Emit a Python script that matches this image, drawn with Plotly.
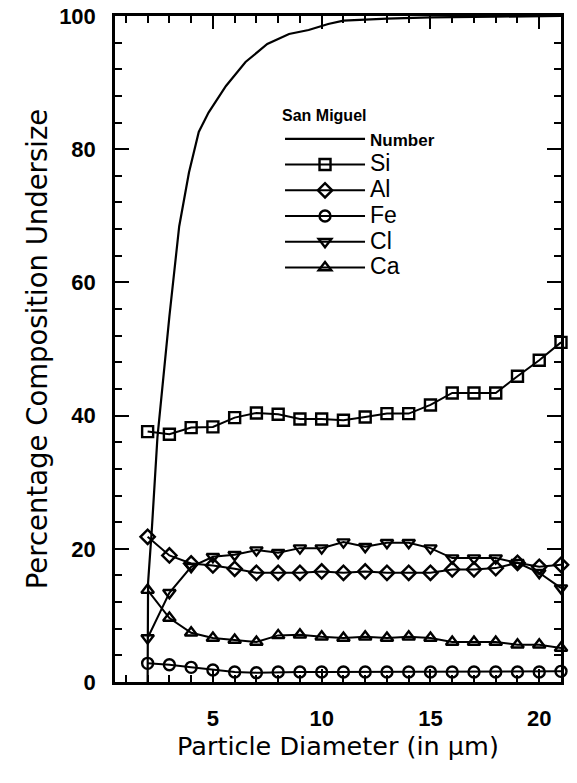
import plotly.graph_objects as go

# Particle diameter (µm) for the elemental composition series
diameter = [2, 3, 4, 5, 6, 7, 8, 9, 10, 11, 12, 13, 14, 15, 16, 17, 18, 19, 20, 21]

si = [37.6, 37.2, 38.2, 38.3, 39.7, 40.4, 40.2, 39.5, 39.5, 39.3,
      39.8, 40.3, 40.3, 41.6, 43.4, 43.4, 43.4, 45.9, 48.3, 51.0]
al = [21.8, 19.0, 17.8, 17.5, 17.0, 16.4, 16.4, 16.4, 16.6, 16.4,
      16.6, 16.4, 16.4, 16.4, 16.9, 16.9, 17.1, 17.9, 17.3, 17.6]
fe = [2.8, 2.6, 2.2, 1.8, 1.5, 1.4, 1.5, 1.5, 1.5, 1.5,
      1.5, 1.5, 1.5, 1.5, 1.5, 1.5, 1.5, 1.5, 1.5, 1.6]
cl = [6.6, 13.4, 17.3, 18.8, 19.1, 19.8, 19.4, 20.1, 20.1, 21.0,
      20.3, 20.9, 20.9, 20.1, 18.6, 18.6, 18.6, 17.9, 16.4, 14.1]
ca = [13.8, 9.6, 7.4, 6.6, 6.3, 6.0, 7.0, 7.1, 6.8, 6.6,
      6.8, 6.6, 6.8, 6.6, 6.0, 6.0, 6.0, 5.6, 5.6, 5.1]

# Cumulative number distribution (smooth curve, no markers)
number_x = [2.0, 2.02, 2.2, 2.45, 3.0, 3.45, 3.9, 4.35, 4.8, 5.6, 6.5,
            7.5, 8.5, 9.4, 10.3, 11.0, 13.0, 15.0, 18.0, 21.0]
number_y = [0.0, 14.9, 23.3, 36.7, 54.9, 68.4, 76.5, 82.6, 85.5, 89.5, 93.1,
            95.8, 97.3, 97.9, 98.8, 99.3, 99.6, 99.8, 99.9, 100.0]

series = [
    ("Si", si, "square-open"),
    ("Al", al, "diamond-open"),
    ("Fe", fe, "circle-open"),
    ("Cl", cl, "triangle-down-open"),
    ("Ca", ca, "triangle-up-open"),
]

x_ticks = [5, 10, 15, 20]
y_ticks = [0, 20, 40, 60, 80, 100]

fig = go.Figure()

fig.add_trace(go.Scatter(
    x=number_x, y=number_y, mode="lines",
    name="<b><span style='font-size:17px'>Number</span></b>",
    line=dict(color="black", width=2.2),
))

for name, vals, sym in series:
    fig.add_trace(go.Scatter(
        x=diameter, y=vals, mode="lines+markers",
        name=f"<span style='font-size:23px'>{name}</span>",
        line=dict(color="black", width=2),
        marker=dict(symbol=sym, size=11, color="black",
                    line=dict(color="black", width=2.4)),
        cliponaxis=False,
    ))

tick_font = dict(family="Liberation Sans", size=22, color="black", weight="bold")

fig.update_layout(
    width=577, height=783,
    margin=dict(l=115, r=16, t=16, b=101, autoexpand=False),
    paper_bgcolor="white", plot_bgcolor="white",
    showlegend=True,
    legend=dict(
        x=0.37, y=0.862, xanchor="left", yanchor="top",
        bgcolor="rgba(0,0,0,0)",
        title=dict(text="<b><span style='font-size:16px'>San Miguel</span></b>",
                   font=dict(family="Liberation Sans", size=10, color="black")),
        font=dict(family="Liberation Sans", size=17.5, color="black"),
        itemwidth=80, tracegroupgap=0,
    ),
    xaxis=dict(
        range=[0.5, 21], tickmode="array", tickvals=x_ticks,
        ticks="inside", ticklen=13, tickwidth=2, tickcolor="black",
        minor=dict(dtick=1, ticks="inside", ticklen=7, tickwidth=2,
                   tickcolor="black"),
        showline=True, linecolor="black", linewidth=2.5, mirror="ticks",
        showgrid=False, zeroline=False, automargin=False,
        tickfont=tick_font,
        ticklabelstandoff=15,
        title=dict(text="Particle Diameter (in µm)",
                   font=dict(family="DejaVu Sans", size=25.5, color="black"),
                   standoff=0),
    ),
    yaxis=dict(
        range=[0, 100], tickmode="array", tickvals=y_ticks,
        ticks="inside", ticklen=14, tickwidth=2, tickcolor="black",
        minor=dict(dtick=4, ticks="inside", ticklen=7, tickwidth=2,
                   tickcolor="black"),
        showline=True, linecolor="black", linewidth=2.5, mirror="ticks",
        showgrid=False, zeroline=False, automargin=False,
        tickfont=tick_font,
        ticklabelstandoff=12,
        title=dict(text="Percentage Composition Undersize",
                   font=dict(family="DejaVu Sans", size=27.5, color="black"),
                   standoff=4),
    ),
)

fig.write_html("out.html")
